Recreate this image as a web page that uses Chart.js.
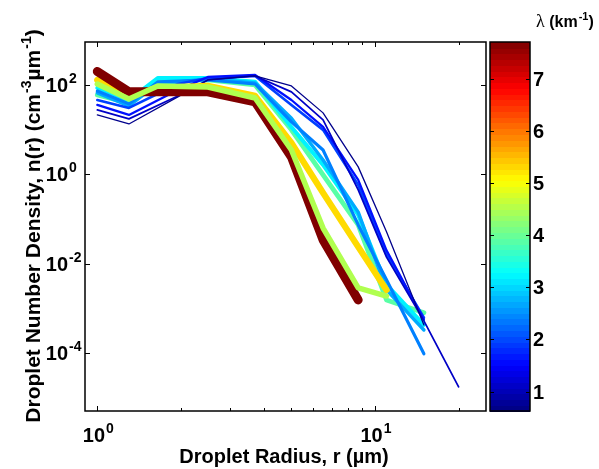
<!DOCTYPE html>
<html>
<head>
<meta charset="utf-8">
<script src="https://cdn.jsdelivr.net/npm/chart.js@4.4.1/dist/chart.umd.min.js"></script>
<style>
html, body { margin: 0; padding: 0; background: #fff; }
#wrap { width: 599px; height: 469px; }
</style>
</head>
<body>
<div id="wrap"><canvas id="dsd" width="599" height="469"></canvas></div>
<script>
// droplet radius bins (um)
const radiusBins = [1.0, 1.3, 1.65, 1.95, 2.5, 3.7, 5.0, 6.5, 8.7, 11, 15, 20];

// number density n(r) per bin (cm^-3 um^-1), null = no value in that bin
const nLime     = [105, 48.6, 95, null, 90, 51, 3.5, 0.063, 0.0029, 0.0019, null, null];
const nDarkRed  = [200, 70, null, null, 70, 42, 2.45, 0.034, 0.00155, null, null, null];
const nGold     = [129, 57, 86, null, 95, 57, 5.05, 0.385, 0.0239, 0.0026, null, null];
const nNavy     = [21.3, 13.4, null, 54, 129, 159, 95, 23.7, 1.47, 0.052, 0.00043, null];
const nDarkBlue = [27.6, 17.4, null, 56.8, 129, 159, 70, 16.5, 0.45, 0.0141, 0.00053, 0.0000177];
const nBlue2    = [35.7, 21.3, null, 77, 151, 167, 46, 11.5, 0.75, 0.020, 0.00056, null];
const nBlue1    = [46, 30.6, null, 105, 143, 159, 35.7, 9.9, 0.58, 0.016, 0.00062, null];
const nDodger   = [73, 37.6, 117, null, 129, 105, 14.9, 3.5, 0.074, 0.0044, 0.000097, null];
const nSky      = [66, 34, 105, null, 136, 110, 18, 2.1, 0.143, 0.0026, 0.00033, null];
const nCyan     = [86, 46, 143, null, 143, 117, 11.5, 1.63, 0.124, 0.0034, 0.00043, null];
const nAqua     = [60, 39.6, 129, null, 129, 100, 9.9, 0.97, 0.074, 0.00155, 0.0008, null];

// extinction lambda (km^-1) of each distribution, same order as above
const lambdas = [4.5, 7.7, 5.3, 0.72, 1.12, 1.62, 1.96, 2.4, 2.7, 3.2, 3.9];
const seriesValues = [nLime, nDarkRed, nGold, nNavy, nDarkBlue, nBlue2, nBlue1, nDodger, nSky, nCyan, nAqua];

// tick labels
const xTickVals = [1, 10];
const xTickExp = ['0', '1'];
const yTickVals = [1e2, 1, 1e-2, 1e-4];
const yTickExp = ['2', '0', '-2', '-4'];
const cbTicks = [1, 2, 3, 4, 5, 6, 7];
const cMin = 0.63, cMax = 7.7;

function jet(t) {
  const c = v => Math.round(255 * Math.max(0, Math.min(1, v)));
  return 'rgb(' + c(1.5 - Math.abs(4 * t - 3)) + ',' + c(1.5 - Math.abs(4 * t - 2)) + ',' + c(1.5 - Math.abs(4 * t - 1)) + ')';
}
const lamColor = l => jet((l - cMin) / (cMax - cMin));

const FONT = '"Liberation Sans", Arial, sans-serif';

// base text + superscripts
function richWidth(ctx, parts, size) {
  let w = 0;
  parts.forEach(p => {
    ctx.font = 'bold ' + (p.sup ? Math.round(size * 0.68) : size) + 'px ' + FONT;
    w += ctx.measureText(p.t).width + (p.sup ? 1 : 0);
  });
  return w;
}
function drawRich(ctx, parts, x, y, size) {
  ctx.textAlign = 'left';
  ctx.textBaseline = 'alphabetic';
  parts.forEach(p => {
    const s = p.sup ? Math.round(size * 0.68) : (p.size || size);
    ctx.font = (p.normal ? '' : 'bold ') + s + 'px ' + (p.font || FONT);
    const dx = p.sup ? 1 : 0;
    ctx.fillText(p.t, x + dx, p.sup ? y - size * 0.45 : y);
    x += ctx.measureText(p.t).width + dx;
  });
}

const decor = {
  id: 'decor',
  afterDraw(chart) {
    const { ctx, chartArea: a, scales: { x, y } } = chart;
    ctx.save();
    ctx.fillStyle = '#000';
    ctx.strokeStyle = '#000';
    ctx.lineWidth = 1;

    // inward ticks, major and minor on x, major on y
    ctx.beginPath();
    [1, 10].forEach(d => {
      for (let k = 1; k <= 9; k++) {
        const v = k * d;
        if (v < x.min || v > x.max) continue;
        const px = Math.round(x.getPixelForValue(v)) + 0.5;
        const len = k === 1 ? 5 : 3;
        ctx.moveTo(px, a.bottom); ctx.lineTo(px, a.bottom - len);
        ctx.moveTo(px, a.top); ctx.lineTo(px, a.top + len);
      }
    });
    yTickVals.forEach(v => {
      const py = Math.round(y.getPixelForValue(v)) + 0.5;
      ctx.moveTo(a.left, py); ctx.lineTo(a.left + 5, py);
      ctx.moveTo(a.right, py); ctx.lineTo(a.right - 5, py);
    });
    ctx.stroke();

    ctx.lineWidth = 1.5;
    ctx.strokeRect(a.left, a.top, a.right - a.left, a.bottom - a.top);

    // x tick labels
    xTickVals.forEach((v, i) => {
      const parts = [{ t: '10' }, { t: xTickExp[i], sup: true }];
      const w = richWidth(ctx, parts, 20);
      drawRich(ctx, parts, x.getPixelForValue(v) - w / 2 + 1, 442, 20);
    });
    // y tick labels
    yTickVals.forEach((v, i) => {
      const py = y.getPixelForValue(v);
      ctx.font = 'bold 20px ' + FONT;
      const bw = ctx.measureText('10').width;
      drawRich(ctx, [{ t: '10' }, { t: yTickExp[i], sup: true }], 68 - bw, py + 7, 20);
    });

    // axis titles
    const xt = [{ t: 'Droplet Radius, r (\u00b5m)' }];
    drawRich(ctx, xt, 284 - richWidth(ctx, xt, 20) / 2, 463, 20);
    const yt = [{ t: 'Droplet Number Density, n(r) (cm' }, { t: '-3', sup: true },
                { t: '\u00b5m' }, { t: '-1', sup: true }, { t: ')' }];
    ctx.save();
    ctx.translate(40, 226);
    ctx.rotate(-Math.PI / 2);
    drawRich(ctx, yt, -richWidth(ctx, yt, 21) / 2, 0, 21);
    ctx.restore();

    // colorbar
    const cb = { left: 490, right: 530, top: a.top, bottom: a.bottom };
    const cbY = v => cb.bottom - (v - cMin) / (cMax - cMin) * (cb.bottom - cb.top);
    const nBands = 64;
    for (let i = 0; i < nBands; i++) {
      const y0 = cb.bottom - (i + 1) * (cb.bottom - cb.top) / nBands;
      ctx.fillStyle = jet((i + 0.5) / nBands);
      ctx.fillRect(cb.left, Math.floor(y0), cb.right - cb.left, Math.ceil((cb.bottom - cb.top) / nBands) + 1);
    }
    ctx.fillStyle = '#000';
    ctx.lineWidth = 1;
    ctx.beginPath();
    cbTicks.forEach(v => {
      const py = Math.round(cbY(v)) + 0.5;
      ctx.moveTo(cb.right, py); ctx.lineTo(cb.right - 4, py);
      ctx.moveTo(cb.left, py); ctx.lineTo(cb.left + 4, py);
    });
    ctx.stroke();
    ctx.lineWidth = 1.5;
    ctx.strokeRect(cb.left, cb.top, cb.right - cb.left, cb.bottom - cb.top);
    ctx.font = 'bold 20px ' + FONT;
    ctx.textAlign = 'left';
    cbTicks.forEach(v => ctx.fillText(String(v), 533, cbY(v) + 7));
    drawRich(ctx, [{ t: '\u03bb ', normal: true, size: 18, font: '"Liberation Serif", serif' },
                   { t: '(km' }, { t: '-1', sup: true }, { t: ')' }], 536, 27, 16);
    ctx.restore();
  }
};

const datasets = seriesValues.map((vals, i) => ({
  label: 'lambda ' + lambdas[i],
  data: radiusBins.map((r, j) => ({ x: r, y: vals[j] })).filter(p => p.y !== null),
  borderColor: lamColor(lambdas[i]),
  borderWidth: 0.5 + 1.1 * lambdas[i],
  pointRadius: 0,
  tension: 0,
  fill: false
}));

new Chart(document.getElementById('dsd'), {
  type: 'line',
  data: { datasets: datasets },
  options: {
    responsive: false,
    animation: false,
    events: [],
    layout: { padding: { left: 85, right: 113, top: 42, bottom: 58 } },
    plugins: { legend: { display: false }, tooltip: { enabled: false } },
    elements: { line: { borderJoinStyle: 'round', borderCapStyle: 'round' } },
    scales: {
      x: { type: 'logarithmic', display: false, bounds: 'data', min: 0.903, max: 25.1 },
      y: { type: 'logarithmic', display: false, bounds: 'data', min: 5.1e-6, max: 912 }
    }
  },
  plugins: [decor]
});
</script>
</body>
</html>
